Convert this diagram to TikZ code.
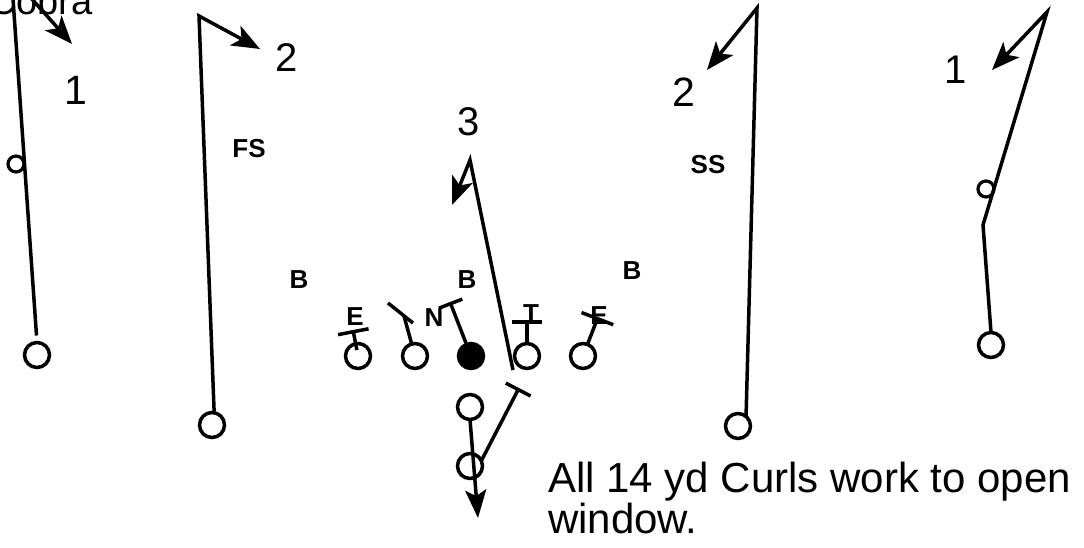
\documentclass[tikz,border=0pt]{standalone}
\usepackage{fontspec}
\setmainfont{Liberation Sans}
\usetikzlibrary{arrows.meta}
\begin{document}
\begin{tikzpicture}[x=1pt,y=-1pt,
  player/.style={circle,draw,line width=3.5pt,minimum size=25pt,inner sep=0pt,outer sep=0pt},
  smallc/.style={circle,draw,line width=3.2pt,minimum size=16pt,inner sep=0pt,outer sep=0pt},
  route/.style={line width=3.5pt,line join=miter},
  arr/.style={route,-{Stealth[length=28pt,width=22pt,inset=7pt]}},
  blk/.style={line width=3.5pt},
  lbl/.style={font=\fontsize{26}{26}\selectfont\bfseries,inner sep=0pt},
  num/.style={font=\fontsize{#1}{#1}\selectfont,inner sep=0pt},
]
\useasboundingbox (0,0) rectangle (1084,548);
\clip (0,0) rectangle (1084,548);
\fill[white] (0,0) rectangle (1084,548);

% title (cropped)
\node[anchor=base east,inner sep=0pt,font=\fontsize{38}{38}\selectfont] (title) at (93,15) {Cobra};

% ---------- left wide receiver ----------
\node[player] (lwr) at (37,355) {};
\node[smallc] (lwrc) at (16,164) {};
\coordinate (lwrtop) at (11.4,-24);
\coordinate (lwrend) at (72,44);
\draw[arr,shorten <=7pt] (lwr.north) -- (lwrtop) -- (lwrend);
\node[num=41] (n1l) at (76,90) {1};

% ---------- left slot ----------
\node[player] (lsl) at (212,425) {};
\coordinate (lsltop) at (199,16);
\coordinate (lslend) at (260,49);
\draw[arr] (lsl.80) -- (lsltop) -- (lslend);
\node[num=40] (n2l) at (287,58) {2};
\node[lbl] (fs) at (249,149) {FS};

% ---------- offensive line ----------
\node[player] (ol1) at (358,356) {};
\node[player] (ol2) at (415,356) {};
\node[player,fill=black] (ctr) at (471,356) {};
\node[player] (ol4) at (527,356) {};
\node[player] (ol5) at (583,356) {};

% blocks
\coordinate (b1) at (353,330);
\draw[blk,-{Bar[width=31pt]},shorten <=6pt] (ol1.center) -- (b1);
\coordinate (b2) at (404,316);
\draw[blk] (ol2) -- (b2);
\draw[blk] (388,303) -- (413,323);
\coordinate (bc) at (450,302);
\draw[blk,-{Bar[width=25pt]},shorten <=14pt] (ctr.center) -- (bc);
\coordinate (b4) at (527,320);
\draw[blk,-{Bar[width=30pt]}] (ol4) -- (b4);
\coordinate (b5) at (598,317);
\draw[blk,-{Bar[width=34pt]}] (ol5) -- (b5);

% defender labels
\node[lbl] (dE1) at (355,317) {E};
\node[lbl] (dN) at (434,318) {N};
\node[lbl] (dT) at (531,314) {T};
\node[lbl] (dE2) at (599,316) {E};
\node[lbl] (dB1) at (299,280) {B};
\node[lbl] (dB2) at (467,280) {B};
\node[lbl] (dB3) at (632,271) {B};

% ---------- route 3 ----------
\coordinate (r3s) at (513,370);
\coordinate (r3t) at (470,160);
\coordinate (r3e) at (452,205);
\draw[arr] (r3s) -- (r3t) -- (r3e);
\node[num=40] (n3) at (469,122) {3};

% ---------- backfield ----------
\node[player] (qb) at (470,407) {};
\node[player] (rb) at (470,466) {};
\coordinate (qbend) at (478,518);
\draw[route,-{Stealth[length=28pt,width=21pt,inset=6pt]}] (qb.south) -- (qbend);
\coordinate (rbblk) at (519,388);
\draw[blk,-{Bar[width=28pt]}] (rb.25) -- (rbblk);

% ---------- strong safety side receiver ----------
\node[player] (ssr) at (738,426) {};
\coordinate (sstop) at (757,8);
\coordinate (ssend) at (707,70);
\draw[arr] (ssr.50) -- (sstop) -- (ssend);
\node[num=41] (n2r) at (684,92) {2};
\node[lbl] (ss) at (708,165) {SS};

% ---------- right wide receiver ----------
\node[player] (rwr) at (991,345) {};
\node[smallc] (rwrc) at (986,189) {};
\coordinate (rwrb) at (983,225);
\coordinate (rwrtop) at (1047,12);
\coordinate (rwrend) at (992,70);
\draw[arr] (rwr.north) -- (rwrb) -- (rwrtop) -- (rwrend);
\node[num=40] (n1r) at (956,70) {1};

% ---------- note ----------
\node[anchor=base west,align=left,inner sep=0pt,font=\fontsize{42}{41}\selectfont] (note) at (548,533) {All 14 yd Curls work to open\\window.};
\end{tikzpicture}
\end{document}
